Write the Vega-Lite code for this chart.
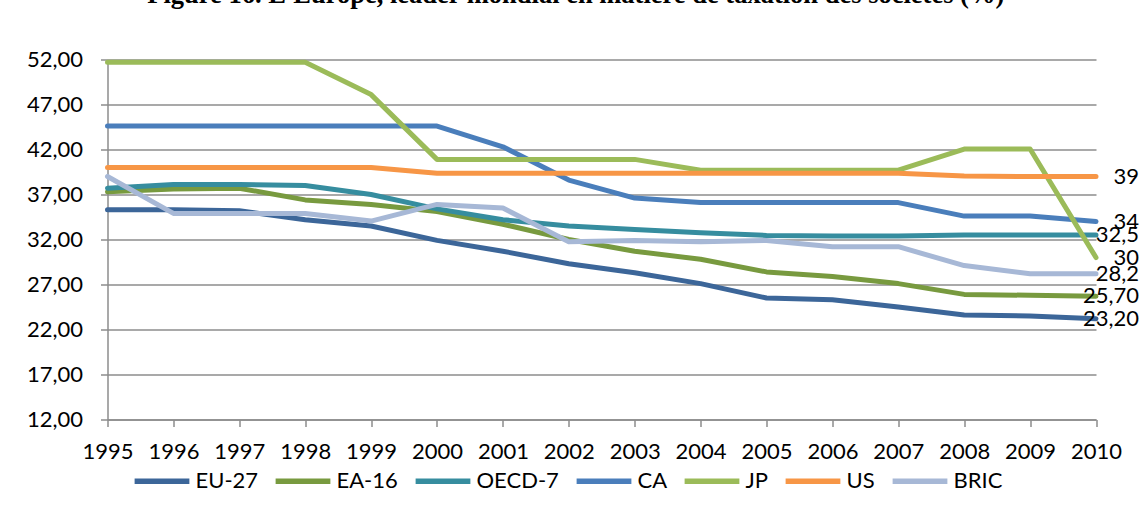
{
  "$schema": "https://vega.github.io/schema/vega-lite/v6.json",
  "width": 988.5,
  "height": 360,
  "autosize": {"type": "none"},
  "padding": {"left": 107.5, "top": 59.5, "right": 49, "bottom": 90.5},
  "background": "white",
  "title": {
    "text": "Figure 16. L'Europe, leader mondial en matière de taxation des sociétés (%)",
    "font": "Liberation Serif",
    "fontSize": 26.5,
    "fontWeight": "bold",
    "color": "black",
    "anchor": "middle",
    "baseline": "alphabetic",
    "offset": 19,
    "dx": -26
  },
  "data": {
    "values": [
      {"series": "EU-27", "year": 1995, "value": 35.3},
      {"series": "EU-27", "year": 1996, "value": 35.3},
      {"series": "EU-27", "year": 1997, "value": 35.2},
      {"series": "EU-27", "year": 1998, "value": 34.2},
      {"series": "EU-27", "year": 1999, "value": 33.5},
      {"series": "EU-27", "year": 2000, "value": 31.9},
      {"series": "EU-27", "year": 2001, "value": 30.7},
      {"series": "EU-27", "year": 2002, "value": 29.3},
      {"series": "EU-27", "year": 2003, "value": 28.3},
      {"series": "EU-27", "year": 2004, "value": 27.1},
      {"series": "EU-27", "year": 2005, "value": 25.5},
      {"series": "EU-27", "year": 2006, "value": 25.3},
      {"series": "EU-27", "year": 2007, "value": 24.5},
      {"series": "EU-27", "year": 2008, "value": 23.6},
      {"series": "EU-27", "year": 2009, "value": 23.5},
      {"series": "EU-27", "year": 2010, "value": 23.2, "label": "23,20"},
      {"series": "EA-16", "year": 1995, "value": 37.3},
      {"series": "EA-16", "year": 1996, "value": 37.6},
      {"series": "EA-16", "year": 1997, "value": 37.7},
      {"series": "EA-16", "year": 1998, "value": 36.4},
      {"series": "EA-16", "year": 1999, "value": 35.9},
      {"series": "EA-16", "year": 2000, "value": 35.1},
      {"series": "EA-16", "year": 2001, "value": 33.7},
      {"series": "EA-16", "year": 2002, "value": 32.0},
      {"series": "EA-16", "year": 2003, "value": 30.7},
      {"series": "EA-16", "year": 2004, "value": 29.8},
      {"series": "EA-16", "year": 2005, "value": 28.4},
      {"series": "EA-16", "year": 2006, "value": 27.9},
      {"series": "EA-16", "year": 2007, "value": 27.1},
      {"series": "EA-16", "year": 2008, "value": 25.9},
      {"series": "EA-16", "year": 2009, "value": 25.8},
      {"series": "EA-16", "year": 2010, "value": 25.7, "label": "25,70"},
      {"series": "OECD-7", "year": 1995, "value": 37.7},
      {"series": "OECD-7", "year": 1996, "value": 38.1},
      {"series": "OECD-7", "year": 1997, "value": 38.1},
      {"series": "OECD-7", "year": 1998, "value": 38.0},
      {"series": "OECD-7", "year": 1999, "value": 37.0},
      {"series": "OECD-7", "year": 2000, "value": 35.4},
      {"series": "OECD-7", "year": 2001, "value": 34.2},
      {"series": "OECD-7", "year": 2002, "value": 33.5},
      {"series": "OECD-7", "year": 2003, "value": 33.1},
      {"series": "OECD-7", "year": 2004, "value": 32.75},
      {"series": "OECD-7", "year": 2005, "value": 32.45},
      {"series": "OECD-7", "year": 2006, "value": 32.4},
      {"series": "OECD-7", "year": 2007, "value": 32.4},
      {"series": "OECD-7", "year": 2008, "value": 32.5},
      {"series": "OECD-7", "year": 2009, "value": 32.5},
      {"series": "OECD-7", "year": 2010, "value": 32.5, "label": "32,5"},
      {"series": "CA", "year": 1995, "value": 44.6},
      {"series": "CA", "year": 1996, "value": 44.6},
      {"series": "CA", "year": 1997, "value": 44.6},
      {"series": "CA", "year": 1998, "value": 44.6},
      {"series": "CA", "year": 1999, "value": 44.6},
      {"series": "CA", "year": 2000, "value": 44.6},
      {"series": "CA", "year": 2001, "value": 42.3},
      {"series": "CA", "year": 2002, "value": 38.6},
      {"series": "CA", "year": 2003, "value": 36.6},
      {"series": "CA", "year": 2004, "value": 36.1},
      {"series": "CA", "year": 2005, "value": 36.1},
      {"series": "CA", "year": 2006, "value": 36.1},
      {"series": "CA", "year": 2007, "value": 36.1},
      {"series": "CA", "year": 2008, "value": 34.6},
      {"series": "CA", "year": 2009, "value": 34.6},
      {"series": "CA", "year": 2010, "value": 34.0, "label": "34"},
      {"series": "JP", "year": 1995, "value": 51.7},
      {"series": "JP", "year": 1996, "value": 51.7},
      {"series": "JP", "year": 1997, "value": 51.7},
      {"series": "JP", "year": 1998, "value": 51.7},
      {"series": "JP", "year": 1999, "value": 48.1},
      {"series": "JP", "year": 2000, "value": 40.9},
      {"series": "JP", "year": 2001, "value": 40.9},
      {"series": "JP", "year": 2002, "value": 40.9},
      {"series": "JP", "year": 2003, "value": 40.9},
      {"series": "JP", "year": 2004, "value": 39.7},
      {"series": "JP", "year": 2005, "value": 39.7},
      {"series": "JP", "year": 2006, "value": 39.7},
      {"series": "JP", "year": 2007, "value": 39.7},
      {"series": "JP", "year": 2008, "value": 42.05},
      {"series": "JP", "year": 2009, "value": 42.05},
      {"series": "JP", "year": 2010, "value": 30.0, "label": "30"},
      {"series": "US", "year": 1995, "value": 40.0},
      {"series": "US", "year": 1996, "value": 40.0},
      {"series": "US", "year": 1997, "value": 40.0},
      {"series": "US", "year": 1998, "value": 40.0},
      {"series": "US", "year": 1999, "value": 40.0},
      {"series": "US", "year": 2000, "value": 39.35},
      {"series": "US", "year": 2001, "value": 39.35},
      {"series": "US", "year": 2002, "value": 39.35},
      {"series": "US", "year": 2003, "value": 39.35},
      {"series": "US", "year": 2004, "value": 39.35},
      {"series": "US", "year": 2005, "value": 39.35},
      {"series": "US", "year": 2006, "value": 39.35},
      {"series": "US", "year": 2007, "value": 39.35},
      {"series": "US", "year": 2008, "value": 39.05},
      {"series": "US", "year": 2009, "value": 39.0},
      {"series": "US", "year": 2010, "value": 39.0, "label": "39"},
      {"series": "BRIC", "year": 1995, "value": 39.0},
      {"series": "BRIC", "year": 1996, "value": 34.9},
      {"series": "BRIC", "year": 1997, "value": 34.9},
      {"series": "BRIC", "year": 1998, "value": 34.9},
      {"series": "BRIC", "year": 1999, "value": 34.05},
      {"series": "BRIC", "year": 2000, "value": 35.9},
      {"series": "BRIC", "year": 2001, "value": 35.5},
      {"series": "BRIC", "year": 2002, "value": 31.75},
      {"series": "BRIC", "year": 2003, "value": 31.9},
      {"series": "BRIC", "year": 2004, "value": 31.75},
      {"series": "BRIC", "year": 2005, "value": 31.9},
      {"series": "BRIC", "year": 2006, "value": 31.2},
      {"series": "BRIC", "year": 2007, "value": 31.2},
      {"series": "BRIC", "year": 2008, "value": 29.1},
      {"series": "BRIC", "year": 2009, "value": 28.2},
      {"series": "BRIC", "year": 2010, "value": 28.2, "label": "28,2"}
    ]
  },
  "encoding": {
    "x": {
      "field": "year",
      "type": "ordinal",
      "scale": {"type": "point", "padding": 0},
      "axis": {
        "title": null,
        "labelAngle": 0,
        "labelFont": "Lato",
        "labelFontSize": 22,
        "labelColor": "black",
        "labelPadding": 15,
        "tickSize": 7,
        "tickColor": "#8c8c8c",
        "tickWidth": 1.5,
        "domainColor": "#8c8c8c",
        "domainWidth": 1.5,
        "grid": false
      }
    },
    "y": {
      "field": "value",
      "type": "quantitative",
      "scale": {"domain": [12, 52], "nice": false, "zero": false},
      "axis": {
        "title": null,
        "values": [12, 17, 22, 27, 32, 37, 42, 47, 52],
        "labelExpr": "replace(format(datum.value, '.2f'), '.', ',')",
        "labelFont": "Lato",
        "labelFontSize": 22,
        "labelColor": "black",
        "labelPadding": 18,
        "tickSize": 7,
        "tickColor": "#8c8c8c",
        "tickWidth": 1.5,
        "domainColor": "#8c8c8c",
        "domainWidth": 1.5,
        "grid": true,
        "gridColor": "#8c8c8c",
        "gridWidth": 1.5
      }
    }
  },
  "layer": [
    {
      "mark": {"type": "line", "strokeWidth": 5, "strokeCap": "round", "strokeJoin": "round"},
      "encoding": {
        "color": {
          "field": "series",
          "type": "nominal",
          "scale": {
            "domain": ["EU-27", "EA-16", "OECD-7", "CA", "JP", "US", "BRIC"],
            "range": ["#3c6699", "#789a3f", "#368d9f", "#4a7ebb", "#9bbb59", "#f79646", "#a7b8d6"]
          },
          "legend": {
            "title": null,
            "orient": "none",
            "direction": "horizontal",
            "legendX": 24,
            "legendY": 391,
            "symbolType": "stroke",
            "symbolSize": 3000,
            "symbolStrokeWidth": 5.5,
            "labelFont": "Lato",
            "labelFontSize": 22,
            "labelColor": "black",
            "labelOffset": 3,
            "columnPadding": 6,
            "labelLimit": 300
          }
        },
        "order": {"field": "year", "type": "ordinal"}
      }
    },
    {
      "transform": [{"filter": "datum.label != null"}],
      "mark": {"type": "text", "align": "right", "baseline": "middle", "dx": 43, "font": "Lato", "fontSize": 22, "color": "black"},
      "encoding": {
        "text": {"field": "label", "type": "nominal"}
      }
    }
  ],
  "config": {
    "view": {"stroke": null}
  }
}
